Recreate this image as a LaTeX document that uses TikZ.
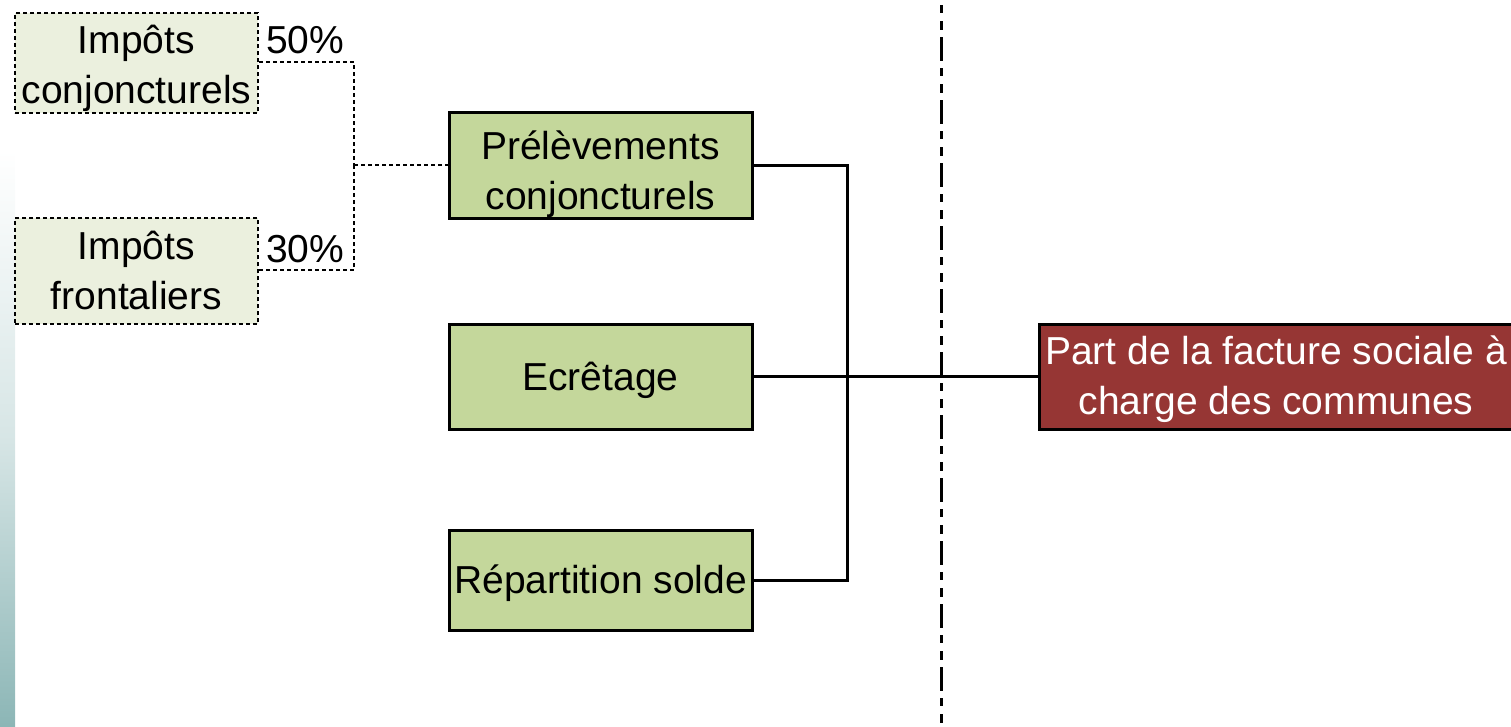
\documentclass[tikz,border=0pt]{standalone}
\usepackage{fontspec}
\setmainfont{Liberation Sans}
\newcommand\tlines[2]{\raisebox{-#1}[\height][\depth]{\begin{tabular}{@{}c@{}}#2\end{tabular}}}
\begin{document}
\begin{tikzpicture}[x=1pt,y=-1pt,
  srcbox/.style={draw=black, line width=2pt, dash pattern=on 4pt off 3pt, fill=srcfill,
    minimum width=243pt, font=\fontsize{39}{50}\selectfont, inner sep=0pt},
  greenbox/.style={draw=black, line width=3pt, fill=grnfill, minimum width=303pt,
    font=\fontsize{39}{50}\selectfont, inner sep=0pt},
  redbox/.style={draw=black, line width=3pt, fill=redfill, text=white, minimum width=473pt,
    font=\fontsize{39}{50}\selectfont, inner sep=0pt},
  pct/.style={font=\fontsize{39}{50}\selectfont, inner sep=0pt},
  dotline/.style={line width=2pt, dash pattern=on 4pt off 3pt},
  solidline/.style={line width=3pt},
  axisline/.style={line width=3pt, dash pattern=on 24pt off 7pt on 8pt off 8pt on 9pt off 7pt, dash phase=26pt}
]
\definecolor{srcfill}{RGB}{235,240,222}
\definecolor{grnfill}{RGB}{196,215,155}
\definecolor{redfill}{RGB}{150,54,52}
\definecolor{stripc}{RGB}{140,182,182}
\useasboundingbox (0,0) rectangle (1511,726);
\shade[top color=white, bottom color=stripc, middle color=stripc!35] (0,150) rectangle (15,726);

\node[srcbox, minimum height=98pt] (ic) at (136.5,63) {\tlines{5pt}{Impôts\\conjoncturels}};
\node[srcbox, minimum height=106pt] (if) at (136.5,271) {\tlines{3pt}{Impôts\\frontaliers}};
\node[pct, anchor=west] (p50) at (266,40) {50\%};
\node[pct, anchor=west] (p30) at (266,249) {30\%};

\node[greenbox, minimum height=106pt] (pc) at (600.5,165) {\tlines{9pt}{Prélèvements\\conjoncturels}};
\node[greenbox, minimum height=105pt] (ec) at (600.5,376.5) {\tlines{4pt}{Ecrêtage}};
\node[greenbox, minimum height=100pt] (rs) at (600.5,580) {\tlines{3pt}{Répartition solde}};

\node[redbox, minimum height=105pt, anchor=west] (pf) at (1038,376.5) {\tlines{3pt}{Part de la facture sociale à\\charge des communes}};

\coordinate (top) at (941,0);
\coordinate (bot) at (941,726);
\draw[axisline] (top) -- (bot);

\coordinate (jd) at (354,165);
\draw[dotline] (ic.east |- 0,62) -| (jd);
\draw[dotline] (if.east |- 0,270) -| (jd);
\draw[dotline] (jd) -- (pc.west);

\coordinate (js) at (847,377);
\draw[solidline] (pc.east) -| (js);
\draw[solidline] (rs.east) -| (js);
\draw[solidline] (ec.east) -- (pf.west);
\end{tikzpicture}
\end{document}
